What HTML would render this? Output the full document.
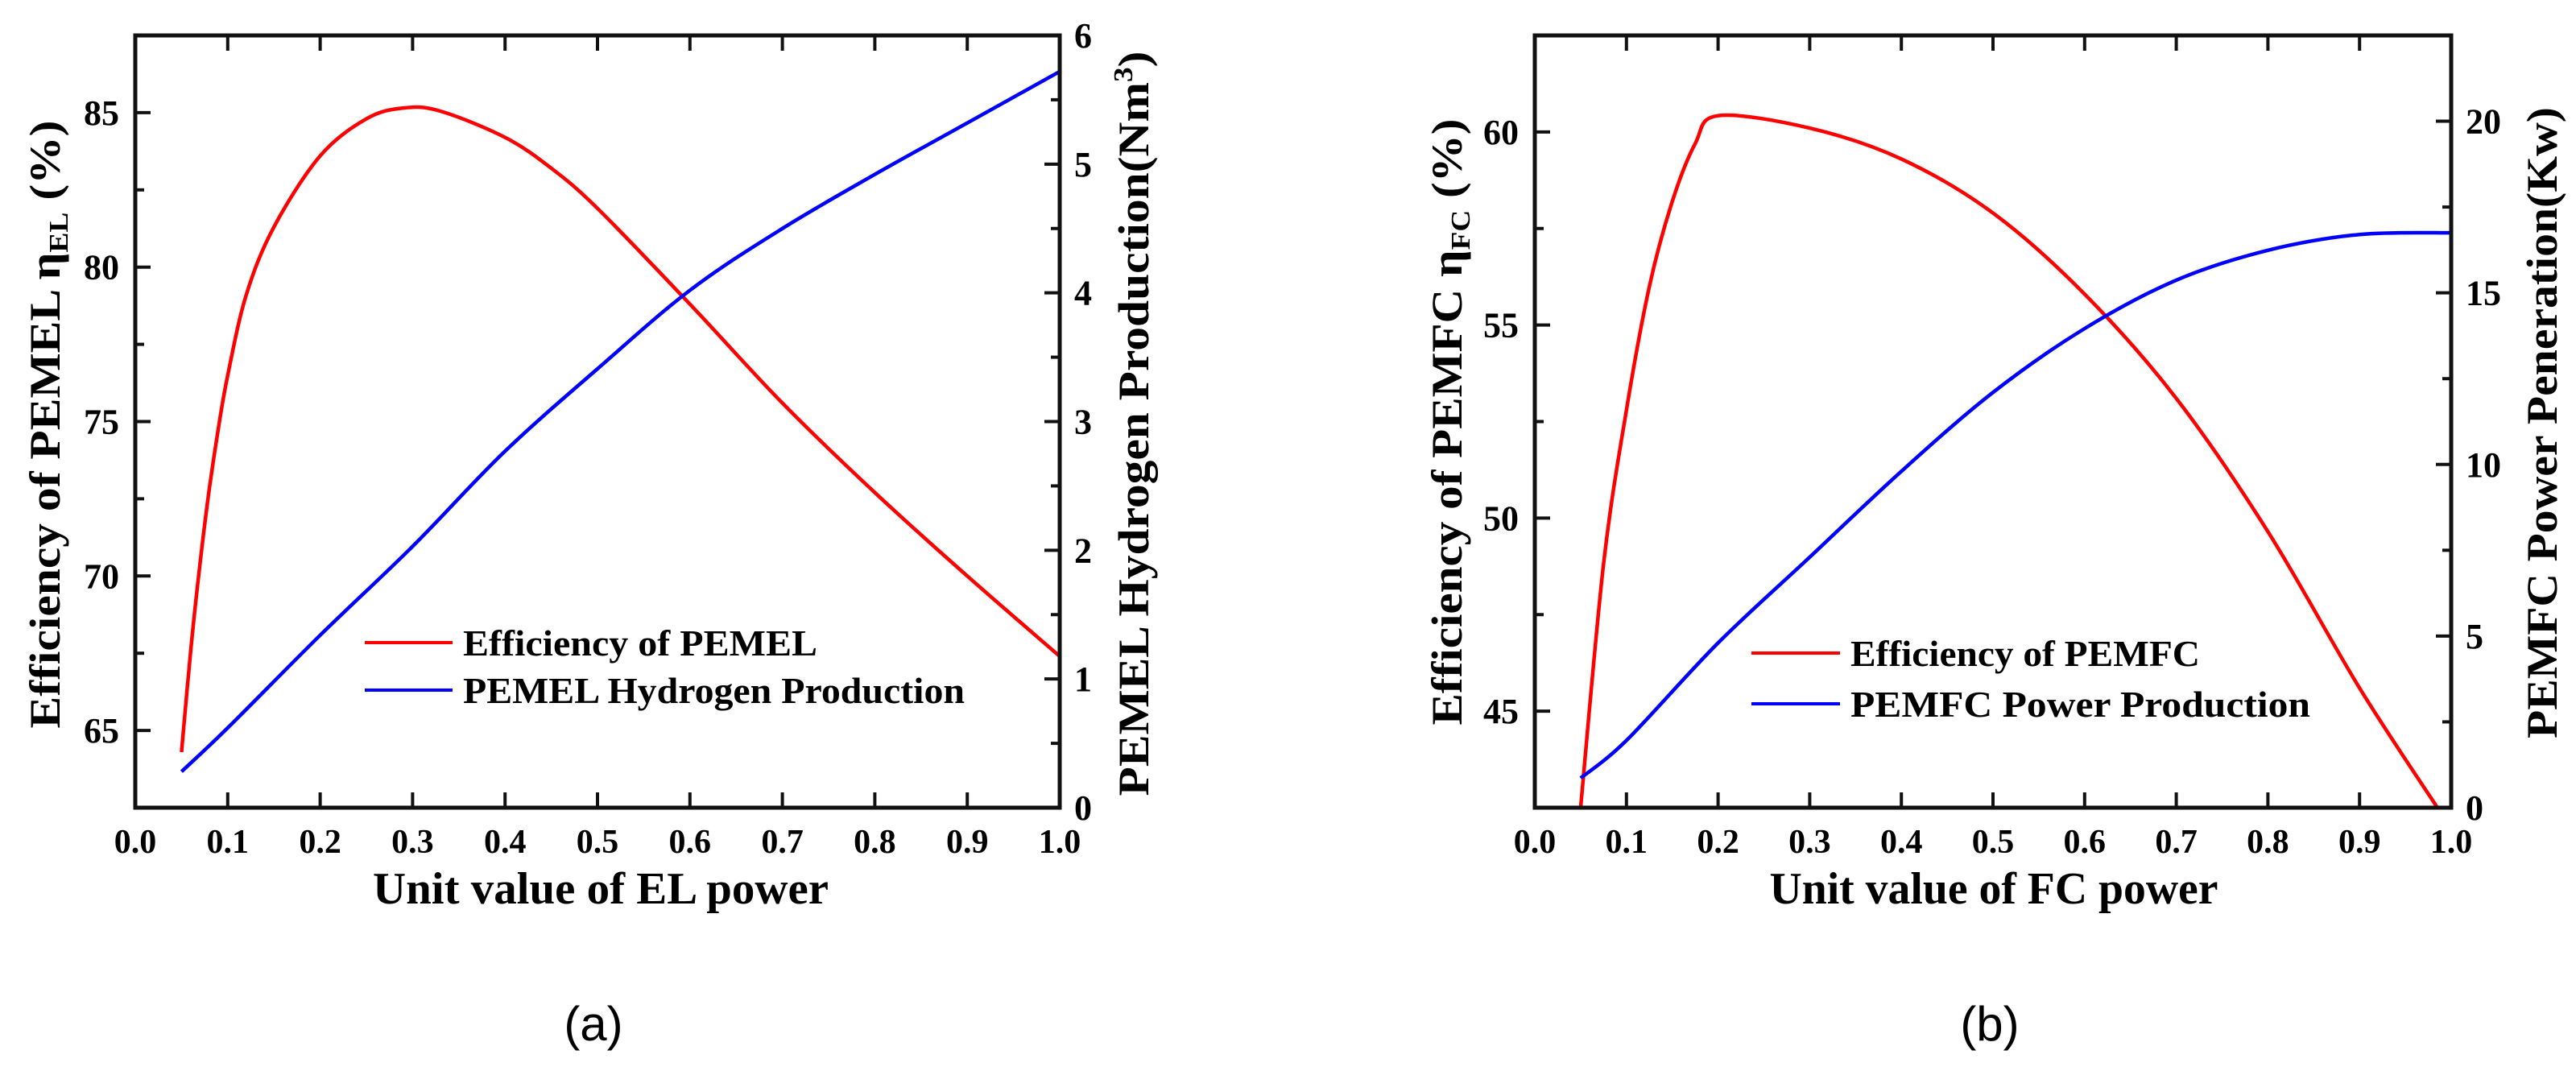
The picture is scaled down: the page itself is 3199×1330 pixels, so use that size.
<!DOCTYPE html>
<html><head><meta charset="utf-8"><style>
html,body{margin:0;padding:0;background:#fff;}
svg{display:block;font-family:"Liberation Serif",serif;}
.b{font-weight:bold;}
</style></head><body>
<svg id="chart" xmlns="http://www.w3.org/2000/svg" width="3199" height="1330" viewBox="0 0 3199 1330"></svg>
<script>
// Panel (a) data
const aX = [0.05,0.06,0.07,0.08,0.09,0.1,0.12,0.15,0.2,0.25,0.29,0.33,0.4,0.45,0.5,0.6,0.7,0.8,0.9,1.0];
const aEff = [64.3,67.6,70.4,72.8,74.8,76.5,79.1,81.3,83.6,84.8,85.15,85.05,84.2,83.2,81.9,78.8,75.6,72.7,70.0,67.4];
const aHX = [0.05,0.1,0.2,0.3,0.4,0.5,0.6,0.7,0.8,0.9,1.0];
const aH2 = [0.28,0.62,1.34,2.03,2.77,3.41,4.02,4.5,4.92,5.32,5.72];
// Panel (b) data
const bX = [0.05,0.075,0.1,0.125,0.15,0.175,0.2,0.3,0.4,0.5,0.6,0.7,0.8,0.9,0.985];
const bEff = [42.5,48.8,52.8,56.0,58.2,59.7,60.42,60.1,59.3,57.9,55.8,53.1,49.65,45.6,42.5];
const bPX = [0.05,0.1,0.2,0.3,0.4,0.5,0.6,0.7,0.8,0.9,1.0];
const bPow = [0.86,1.96,4.8,7.3,9.8,12.1,13.96,15.37,16.24,16.7,16.75];
const xTicks = [0,0.1,0.2,0.3,0.4,0.5,0.6,0.7,0.8,0.9,1.0];
const aLeftTicks = [65,70,75,80,85];
const aRightTicks = [0,1,2,3,4,5,6];
const bLeftTicks = [45,50,55,60];
const bRightTicks = [0,5,10,15,20];

const NS="http://www.w3.org/2000/svg";
const svg=document.getElementById('chart');
function mk(tag,attrs,parent){const e=document.createElementNS(NS,tag);for(const k in attrs)e.setAttribute(k,attrs[k]);(parent||svg).appendChild(e);return e;}
function path(xs,ys,fx,fy){
  const p=xs.map((x,i)=>[fx(x),fy(ys[i])]);
  let d='M'+p[0][0].toFixed(1)+','+p[0][1].toFixed(1);
  for(let i=0;i<p.length-1;i++){
    const p0=p[Math.max(i-1,0)],p1=p[i],p2=p[i+1],p3=p[Math.min(i+2,p.length-1)];
    const c1=[p1[0]+(p2[0]-p0[0])/6,p1[1]+(p2[1]-p0[1])/6];
    const c2=[p2[0]-(p3[0]-p1[0])/6,p2[1]-(p3[1]-p1[1])/6];
    d+=' C'+c1.map(v=>v.toFixed(1)).join(',')+' '+c2.map(v=>v.toFixed(1)).join(',')+' '+p2[0].toFixed(1)+','+p2[1].toFixed(1);
  }
  return d;
}
function panel(o){
  const g=mk('g',{});
  
  
  const fx=v=>o.L+(o.R-o.L)*v;
  const fyL=v=>o.B-(v-o.lmin)/(o.lmax-o.lmin)*(o.B-o.T);
  const fyR=v=>o.B-(v-o.rmin)/(o.rmax-o.rmin)*(o.B-o.T);
  const r=mk('path',{d:path(o.ex,o.ey,fx,fyL),fill:'none',stroke:'#ff0000','stroke-width':4.5},g);
  
  
  const bl=mk('path',{d:path(o.px,o.py,fx,fyR),fill:'none',stroke:'#0000ff','stroke-width':4.5},g);
  
  
  const fr=mk('rect',{x:o.L,y:o.T,width:o.R-o.L,height:o.B-o.T,fill:'none',stroke:'#111','stroke-width':5},g);
  
  
  xTicks.forEach(t=>{
    const x=fx(t);
    if(t>0&&t<1){mk('line',{x1:x,x2:x,y1:o.B,y2:o.B-19,stroke:'#111','stroke-width':4},g);
      mk('line',{x1:x,x2:x,y1:o.T,y2:o.T+19,stroke:'#111','stroke-width':4},g);}
    const tx=mk('text',{x:x,y:1059,'text-anchor':'middle','font-size':42,class:'b'},g);
    tx.textContent=t.toFixed(1);
    
    
  });
  const lstep=o.lticks[1]-o.lticks[0];
  for(let v=o.lticks[0]-lstep/2;v<o.lmax;v+=lstep/2){
    if(v<=o.lmin)continue;
    const major=o.lticks.includes(Math.round(v*10)/10);
    mk('line',{x1:o.L,x2:o.L+(major?19:11),y1:fyL(v),y2:fyL(v),stroke:'#111','stroke-width':4},g);
  }
  o.lticks.forEach(t=>{
    const tx=mk('text',{x:o.L-20,y:fyL(t)+15,'text-anchor':'end','font-size':44,class:'b'},g);
    tx.textContent=t;
    
    
  });
  const rstep=o.rticks[1]-o.rticks[0];
  for(let v=rstep/2;v<o.rmax;v+=rstep/2){
    const major=o.rticks.includes(Math.round(v*10)/10);
    mk('line',{x1:o.R,x2:o.R-(major?19:11),y1:fyR(v),y2:fyR(v),stroke:'#111','stroke-width':4},g);
  }
  o.rticks.forEach(t=>{
    const tx=mk('text',{x:o.R+18,y:fyR(t)+15,'text-anchor':'start','font-size':44,class:'b'},g);
    tx.textContent=t;
    
    
  });
  const xt=mk('text',{x:o.xtc,y:1122,'text-anchor':'middle','font-size':56,class:'b',textLength:o.xtw,lengthAdjust:'spacingAndGlyphs'},g);
  xt.textContent=o.xtitle;
  
  
  const lt=mk('text',{transform:`translate(${o.ltx},${o.ltc}) rotate(-90)`,'text-anchor':'middle','font-size':54,class:'b',textLength:o.ltw,lengthAdjust:'spacingAndGlyphs'},g);
  lt.innerHTML=o.ltitle;
  
  
  const rt=mk('text',{transform:`translate(${o.rtx},${o.rtc}) rotate(-90)`,'text-anchor':'middle','font-size':54,class:'b',textLength:o.rtw,lengthAdjust:'spacingAndGlyphs'},g);
  rt.innerHTML=o.rtitle;
  
  
  [[o.leg1,'#ff0000',o.ly1,o.lw1],[o.leg2,'#0000ff',o.ly2,o.lw2]].forEach(([lab,c,y,w])=>{
    const ln=mk('line',{x1:o.lx1,x2:o.lx2,y1:y,y2:y,stroke:c,'stroke-width':4},g);
    
    
    const tx=mk('text',{x:o.lx2+13,y:y+16,'font-size':46,class:'b',textLength:w,lengthAdjust:'spacingAndGlyphs'},g);
    tx.textContent=lab;
    
    
  });
  const pl=mk('text',{x:o.plx,y:1292,'text-anchor':'middle','font-size':60,'font-family':'"Liberation Sans",sans-serif'},g);
  pl.textContent=o.plabel;
  
  
}
panel({name:'panel-a',L:168,R:1316,T:44,B:1003,lmin:62.5,lmax:87.5,rmin:0,rmax:6,
  ex:aX,ey:aEff,px:aHX,py:aH2,lticks:aLeftTicks,rticks:aRightTicks,
  xtitle:'Unit value of EL power',xtc:746,xtw:566,
  ltitle:'Efficiency of PEMEL \u03b7<tspan font-size="34" dy="10">EL</tspan><tspan dy="-10"> (%)</tspan>',ltx:74,ltc:527,ltw:755,
  rtitle:'PEMEL Hydrogen Production(Nm<tspan font-size="34" dy="-20">3</tspan><tspan dy="20">)</tspan>',rtx:1426,rtc:526,rtw:925,
  leg1:'Efficiency of PEMEL',leg2:'PEMEL Hydrogen Production',lx1:453,lx2:562,ly1:798,ly2:857,lw1:440,lw2:623,
  plx:737,plabel:'(a)'});
panel({name:'panel-b',L:1906,R:3044,T:44,B:1003,lmin:42.5,lmax:62.5,rmin:0,rmax:22.5,
  ex:bX,ey:bEff,px:bPX,py:bPow,lticks:bLeftTicks,rticks:bRightTicks,
  xtitle:'Unit value of FC power',xtc:2476,xtw:557,
  ltitle:'Efficiency of PEMFC \u03b7<tspan font-size="34" dy="10">FC</tspan><tspan dy="-10"> (%)</tspan>',ltx:1815,ltc:524,ltw:753,
  rtitle:'PEMFC Power Peneration(Kw)',rtx:3175,rtc:525,rtw:784,
  leg1:'Efficiency of PEMFC',leg2:'PEMFC Power Production',lx1:2175,lx2:2285,ly1:811,ly2:874,lw1:434,lw2:571,
  plx:2471,plabel:'(b)'});
</script>
</body></html>
